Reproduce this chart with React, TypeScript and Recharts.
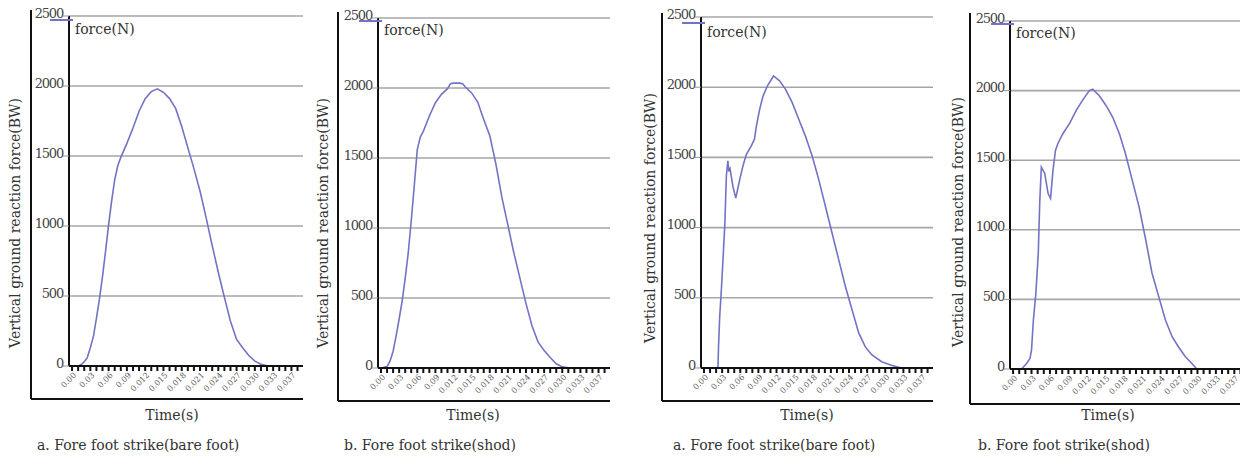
import React from 'react';
import { LineChart, Line, XAxis, YAxis, CartesianGrid } from 'recharts';

// ---- data (time in ms units, force in N) ----
const yTicks = [0, 500, 1000, 1500, 2000, 2500];
const xTickLabels = ['0.00', '0.03', '0.06', '0.09', '0.012', '0.015', '0.018', '0.021', '0.024', '0.027', '0.030', '0.033', '0.037'];
const msTicks = [0, 1, 2, 3, 4, 5, 6, 7, 8, 9, 10, 11, 12, 13, 14, 15, 16, 17, 18, 19, 20, 21, 22, 23, 24, 25, 26, 27, 28, 29, 30, 31, 32, 33, 34, 35, 36, 37];

const timeA = [0, 1, 1.5, 2, 2.5, 3, 3.5, 4, 4.5, 5, 5.5, 6, 6.5, 7, 7.5, 8, 9, 10, 11, 12, 13, 14, 15, 16, 17, 18, 19, 20, 21, 22, 23, 24, 25, 26, 27, 28, 29, 30, 31, 32, 33];
const forceA = [0, 0, 10, 30, 60, 130, 210, 340, 480, 640, 820, 1010, 1180, 1330, 1430, 1490, 1590, 1700, 1820, 1910, 1960, 1980, 1955, 1910, 1840, 1710, 1560, 1410, 1250, 1060, 860, 670, 490, 320, 190, 130, 75, 35, 12, 2, 0];

const timeB = [0, 1, 1.5, 2, 2.5, 3, 3.5, 4, 4.5, 5, 5.5, 6, 6.5, 7, 8, 9, 10, 11, 11.5, 12, 13, 13.5, 14, 15, 16, 17, 18, 19, 20, 21, 22, 23, 24, 25, 26, 27, 28, 29, 30, 31, 32];
const forceB = [0, 10, 50, 120, 230, 350, 480, 640, 820, 1050, 1300, 1560, 1650, 1690, 1800, 1895, 1955, 1995, 2030, 2035, 2035, 2030, 2005, 1965, 1900, 1775, 1660, 1460, 1220, 1020, 820, 640, 460, 300, 185, 125, 75, 30, 8, 2, 0];

const timeC = [0, 1, 2, 2.3, 2.4, 2.6, 2.9, 3.2, 3.45, 3.7, 3.95, 4.1, 4.3, 4.8, 5.25, 5.9, 6.45, 7.0, 7.8, 8.35, 8.65, 9.2, 9.75, 10.5, 11.5, 12.5, 13.5, 14.6, 15.7, 16.8, 17.9, 19, 20.1, 21.2, 22.3, 23.4, 24.5, 25.6, 26.7, 27.75, 29.4, 31, 32.7];
const forceC = [0, 0, 0, 0, 150, 370, 580, 820, 1030, 1370, 1475, 1400, 1420, 1290, 1210, 1340, 1440, 1520, 1580, 1630, 1720, 1840, 1935, 2010, 2080, 2045, 1985, 1890, 1770, 1650, 1510, 1340, 1150, 960, 770, 580, 415, 250, 150, 95, 45, 20, 0];

const timeD = [0, 1.4, 2.2, 2.75, 3.0, 3.3, 3.7, 4.1, 4.35, 4.6, 5.15, 5.7, 6.1, 6.5, 6.9, 7.3, 8.1, 9.2, 10.3, 11.3, 12.4, 12.95, 14.0, 15.1, 16.2, 17.3, 18.3, 19.4, 20.5, 21.6, 22.6, 23.7, 24.8, 25.9, 26.9, 28.0, 29.1, 29.9];
const forceD = [0, 0, 40, 75, 135, 350, 540, 830, 1210, 1450, 1405, 1260, 1225, 1430, 1570, 1620, 1690, 1765, 1860, 1930, 2000, 2010, 1965, 1895, 1810, 1690, 1545, 1355, 1165, 925, 690, 520, 350, 230, 160, 90, 40, 0];

const legendLabel = 'force(N)';
const yTitle = 'Vertical ground reaction force(BW)';
const xTitle = 'Time(s)';
const captions = ['a. Fore foot strike(bare foot)', 'b. Fore foot strike(shod)', 'a. Fore foot strike(bare foot)', 'b. Fore foot strike(shod)'];

const build = (t: number[], f: number[]) => t.map((v, i) => ({ t: v, f: f[i] }));
const series = [build(timeA, forceA), build(timeB, forceB), build(timeC, forceC), build(timeD, forceD)];

// ---- layout ----
const layouts = [
  { axisX: 69, right: 303, top: 16, zero: 366, frameX: 31, frameTop: 10, frameBottom: 399, frameRight: 303, legendY: 20, titleX: 15, titleY: 223, timeX: 172, capX: 37 },
  { axisX: 378, right: 610, top: 18, zero: 368, frameX: 338, frameTop: 12, frameBottom: 401, frameRight: 610, legendY: 21, titleX: 323, titleY: 223, timeX: 473, capX: 344 },
  { axisX: 701, right: 933, top: 17, zero: 368, frameX: 662, frameTop: 13, frameBottom: 401, frameRight: 933, legendY: 23, titleX: 650, titleY: 218, timeX: 807, capX: 673 },
  { axisX: 1010, right: 1246, top: 21, zero: 369, frameX: 970, frameTop: 13, frameBottom: 404, frameRight: 1240, legendY: 24, titleX: 958, titleY: 222, timeX: 1108, capX: 978 },
];

const SERIF = '"DejaVu Serif", "Liberation Serif", serif';
const LINE_COLOR = '#7373c6';
const Y_AXIS_W = 69;
const X_AXIS_H = 34;

const XTick = (props: any) => {
  const { x, y, payload } = props;
  const v = payload.value;
  if (v % 3 !== 0) return <g />;
  const label = xTickLabels[v / 3];
  const ax = x + 3;
  const ay = y + 1;
  return (
    <text x={ax} y={ay} transform={`rotate(-45 ${ax} ${ay})`} textAnchor="end" dominantBaseline="central" fill="#555" style={{ fontFamily: SERIF, fontSize: 8 }}>
      {label}
    </text>
  );
};

const YTick = (props: any) => {
  const { x, y, payload } = props;
  return (
    <text x={x} y={y - 3} textAnchor="end" dominantBaseline="central" fill="#444" style={{ fontFamily: SERIF, fontSize: 13, letterSpacing: -1.2 }}>
      {payload.value}
    </text>
  );
};

const Panel = ({ idx }: { idx: number }) => {
  const L = layouts[idx];
  const left = L.axisX - Y_AXIS_W;
  const width = L.right - left + 2;
  const height = L.zero + X_AXIS_H;
  return (
    <div style={{ position: 'absolute', left, top: 0, width, height }}>
      <LineChart width={width} height={height} data={series[idx]} margin={{ top: L.top, right: 2, bottom: 0, left: 0 }}>
        <CartesianGrid vertical={false} stroke="#a6a6a6" strokeWidth={1.6} />
        <XAxis
          type="number"
          dataKey="t"
          domain={[-0.5, 37.9]}
          ticks={msTicks}
          interval={0}
          allowDataOverflow
          height={X_AXIS_H}
          tickSize={5}
          tickLine={{ stroke: '#111', strokeWidth: 2 }}
          axisLine={{ stroke: '#111', strokeWidth: 2 }}
          tick={<XTick />}
        />
        <YAxis
          type="number"
          domain={[0, 2500]}
          ticks={yTicks}
          width={Y_AXIS_W}
          tickSize={6}
          tickMargin={0}
          tickLine={{ stroke: '#999', strokeWidth: 1 }}
          axisLine={{ stroke: '#111', strokeWidth: 2 }}
          tick={<YTick />}
        />
        <Line type="linear" dataKey="f" stroke={LINE_COLOR} strokeWidth={1.6} dot={false} isAnimationActive={false} />
      </LineChart>
    </div>
  );
};

export default function App() {
  const textStyle = { fontFamily: SERIF, fontSize: 14 };
  return (
    <div style={{ position: 'absolute', left: 0, top: 0, width: 1240, height: 459, overflow: 'hidden', background: '#fff' }}>
      {layouts.map((_, i) => (
        <Panel key={i} idx={i} />
      ))}
      <svg width={1240} height={459} style={{ position: 'absolute', left: 0, top: 0, pointerEvents: 'none' }}>
        {layouts.map((L, i) => (
          <g key={i} fill="#333">
            <line x1={L.frameX} y1={L.frameTop} x2={L.frameX} y2={L.frameBottom} stroke="#111" strokeWidth={2} />
            <line x1={L.frameX} y1={L.frameBottom} x2={L.frameRight} y2={L.frameBottom} stroke="#111" strokeWidth={2} />
            <line x1={L.axisX - 19} y1={L.legendY} x2={L.axisX + 4} y2={L.legendY} stroke={LINE_COLOR} strokeWidth={2} />
            <text x={L.axisX + 6} y={L.legendY + 9} dominantBaseline="central" style={textStyle}>{legendLabel}</text>
            <text x={L.titleX} y={L.titleY} transform={`rotate(-90 ${L.titleX} ${L.titleY})`} textAnchor="middle" dominantBaseline="central" style={{ fontFamily: SERIF, fontSize: 14 }}>{yTitle}</text>
            <text x={L.timeX} y={415} textAnchor="middle" dominantBaseline="central" style={{ fontFamily: SERIF, fontSize: 14 }}>{xTitle}</text>
            <text x={L.capX} y={445} dominantBaseline="central" style={textStyle}>{captions[i]}</text>
          </g>
        ))}
      </svg>
    </div>
  );
}
